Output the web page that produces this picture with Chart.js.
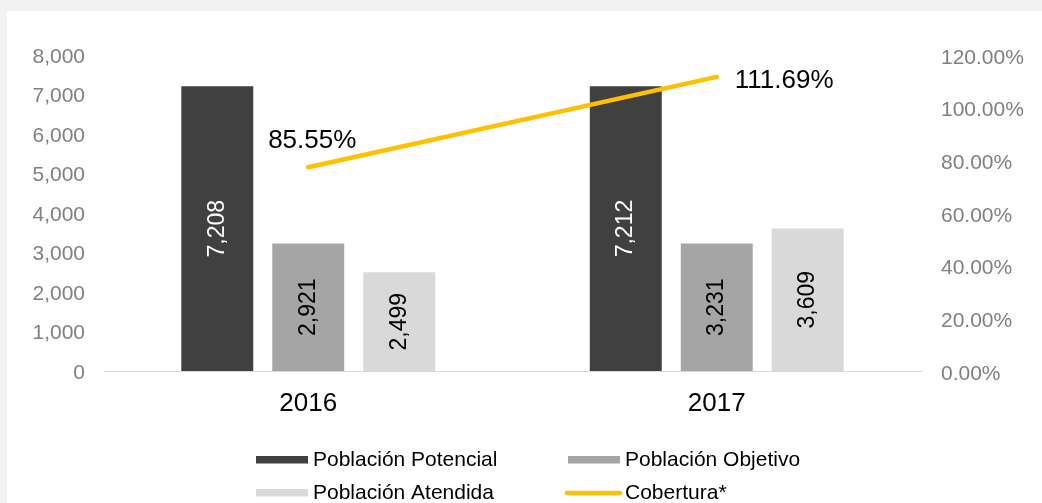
<!DOCTYPE html>
<html>
<head>
<meta charset="utf-8">
<script src="https://cdn.jsdelivr.net/npm/chart.js@4.4.1/dist/chart.umd.min.js"></script>
<style>
  html, body { margin: 0; padding: 0; background: #f2f2f2; width: 1042px; height: 503px; overflow: hidden; }
  #wrap { position: absolute; left: 7px; top: 11px; width: 1035px; height: 492px; background: #ffffff; }
  canvas { display: block; }
</style>
</head>
<body>
<div id="wrap"><canvas id="c" width="1035" height="492"></canvas></div>
<script>
// ---- data ----
const categories = ['2016', '2017'];
const poblacionPotencial = [7208, 7212];
const poblacionObjetivo = [3231, 3231];      // bar heights as drawn
const poblacionAtendida = [2499, 3609];
const cobertura = [77.35, 111.69];           // % (line positions as drawn)
const labelsPotencial = ['7,208', '7,212'];
const labelsObjetivo = ['2,921', '3,231'];
const labelsAtendida = ['2,499', '3,609'];
const labelsCobertura = ['85.55%', '111.69%'];
const seriesNames = ['Población Potencial', 'Población Objetivo', 'Población Atendida', 'Cobertura*'];
const leftTicks = [0, 1000, 2000, 3000, 4000, 5000, 6000, 7000, 8000];
const rightTicks = [0, 20, 40, 60, 80, 100, 120];

const FONT = "'Liberation Sans', Arial, sans-serif";
const colors = ['#404040', '#a5a5a5', '#d9d9d9', '#ffc000'];
const barLabelColors = ['#ffffff', '#000000', '#000000'];
const barLabelTexts = [labelsPotencial, labelsObjetivo, labelsAtendida];

const labelsPlugin = {
  id: 'labelsPlugin',
  afterDatasetsDraw(chart) {
    const ctx = chart.ctx;
    ctx.save();
    for (let d = 0; d < 3; d++) {
      const meta = chart.getDatasetMeta(d);
      meta.data.forEach((el, i) => {
        const cy = (el.y + el.base) / 2;
        ctx.save();
        ctx.translate(el.x, cy);
        ctx.rotate(-Math.PI / 2);
        ctx.font = '23px ' + FONT;
        ctx.fillStyle = barLabelColors[d];
        ctx.textAlign = 'center';
        ctx.textBaseline = 'middle';
        ctx.fillText(barLabelTexts[d][i], 0, 0);
        ctx.restore();
      });
    }
    const placement = ['above', 'right'];
    const lm = chart.getDatasetMeta(3);
    ctx.font = '26px ' + FONT;
    ctx.fillStyle = '#000000';
    ctx.textBaseline = 'middle';
    lm.data.forEach((pt, i) => {
      if (placement[i] === 'above') {
        ctx.textAlign = 'center';
        ctx.fillText(labelsCobertura[i], pt.x + 4, pt.y - 26);
      } else {
        ctx.textAlign = 'left';
        ctx.fillText(labelsCobertura[i], pt.x + 18, pt.y + 4);
      }
    });
    ctx.restore();
  }
};

const legendPlugin = {
  id: 'customLegend',
  afterDraw(chart) {
    const ctx = chart.ctx;
    ctx.save();
    ctx.font = '21px ' + FONT;
    ctx.textBaseline = 'middle';
    ctx.textAlign = 'left';
    const cols = [249, 561];
    const rows = [449, 482];
    [0, 1, 2, 3].forEach((d, k) => {
      const x = cols[k % 2];
      const y = rows[Math.floor(k / 2)];
      const ds = chart.data.datasets[d];
      if (ds.type === 'line') {
        ctx.strokeStyle = ds.borderColor;
        ctx.lineWidth = 4.5;
        ctx.lineCap = 'round';
        ctx.beginPath();
        ctx.moveTo(x - 1, y);
        ctx.lineTo(x + 52, y);
        ctx.stroke();
      } else {
        ctx.fillStyle = ds.backgroundColor;
        ctx.fillRect(x, y - 4, 52, 7.5);
      }
      ctx.fillStyle = '#000000';
      ctx.fillText(ds.label, x + 57, y + 0.5);
    });
    ctx.restore();
  }
};

new Chart(document.getElementById('c'), {
  data: {
    labels: categories,
    datasets: [
      { type: 'bar', label: seriesNames[0], data: poblacionPotencial, backgroundColor: colors[0], yAxisID: 'yL', order: 1, categoryPercentage: 0.668, barPercentage: 0.791 },
      { type: 'bar', label: seriesNames[1], data: poblacionObjetivo, backgroundColor: colors[1], yAxisID: 'yL', order: 1, categoryPercentage: 0.668, barPercentage: 0.791 },
      { type: 'bar', label: seriesNames[2], data: poblacionAtendida, backgroundColor: colors[2], yAxisID: 'yL', order: 1, categoryPercentage: 0.668, barPercentage: 0.791 },
      { type: 'line', label: seriesNames[3], data: cobertura, borderColor: colors[3], backgroundColor: colors[3], borderWidth: 4.5, borderCapStyle: 'round', pointRadius: 0, yAxisID: 'yR', order: 0, tension: 0 }
    ]
  },
  options: {
    responsive: false,
    animation: false,
    devicePixelRatio: 1,
    layout: { padding: { top: 44, bottom: 72, left: 0, right: 0 } },
    plugins: { legend: { display: false }, tooltip: { enabled: false } },
    scales: {
      x: {
        offset: true,
        grid: { display: false, drawTicks: false },
        border: { display: true, color: '#d9d9d9', width: 1 },
        ticks: { color: '#000000', font: { size: 26, family: FONT }, padding: 17 },
        afterFit(s) { s.height = 60; }
      },
      yL: {
        position: 'left',
        min: leftTicks[0], max: leftTicks[leftTicks.length - 1],
        afterBuildTicks(s) { s.ticks = leftTicks.map(v => ({ value: v })); },
        grid: { display: false, drawTicks: false },
        border: { display: false },
        ticks: { color: '#808080', font: { size: 21, family: FONT }, padding: 19, labelOffset: 2, callback: v => Number(v).toLocaleString('en-US') },
        afterFit(s) { s.width = 97; }
      },
      yR: {
        position: 'right',
        min: rightTicks[0], max: rightTicks[rightTicks.length - 1],
        afterBuildTicks(s) { s.ticks = rightTicks.map(v => ({ value: v })); },
        grid: { display: false, drawTicks: false },
        border: { display: false },
        ticks: { color: '#808080', font: { size: 21, family: FONT }, padding: 20, labelOffset: 3, callback: v => Number(v).toFixed(2) + '%' },
        afterFit(s) { s.width = 121; }
      }
    }
  },
  plugins: [labelsPlugin, legendPlugin]
});
</script>
</body>
</html>
